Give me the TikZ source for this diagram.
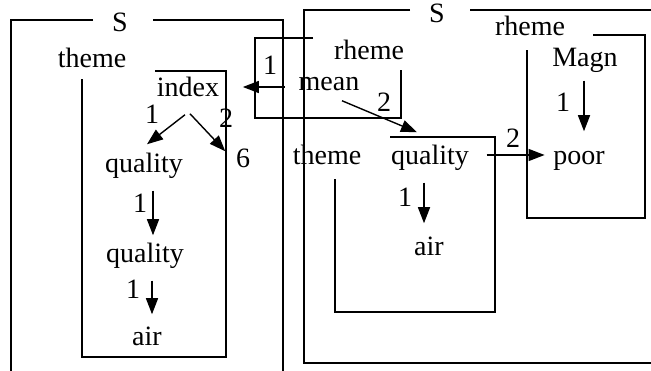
\documentclass[tikz,border=0pt]{standalone}
\usepackage{fontspec}
\setmainfont{Liberation Serif}
\usetikzlibrary{arrows.meta}
\begin{document}
\begin{tikzpicture}[x=1pt,y=-1pt,line width=1.5pt,>={Triangle[length=16pt,width=12pt]},
        word/.style={anchor=base, inner sep=0pt, text height=20pt, text depth=6pt, font=\fontsize{28}{30}\selectfont},
        arc/.style={->, line width=1.4pt}]
    \useasboundingbox (0,0) rectangle (651,371);

    % frames
    \draw (93,20) -- (11,20) -- (11,371);
    \draw (153,20) -- (283,20) -- (283,371);
    \draw (155,71) -- (226,71) -- (226,357) -- (82,357) -- (82,79);
    \draw (410,10) -- (304,10) -- (304,363) -- (651,363);
    \draw (470,10) -- (651,10);
    \draw (313,38) -- (255,38) -- (255,118) -- (401,118) -- (401,70);
    \draw (390,137) -- (495,137) -- (495,312) -- (335,312) -- (335,179);
    \draw (593,35) -- (645,35) -- (645,218) -- (527,218) -- (527,50);

    % left sentence
    \node (sleft) [word] at (120,32) {S};
    \node (themeleft) [word] at (92,68) {theme};
    \node (index) [word] at (188,97) {index};
    \node (qualityone) [word] at (144,173) {quality};
    \node (six) [word] at (243,168) {6};
    \node (qualitytwo) [word] at (145,263) {quality};
    \node (airleft) [word] at (147,346) {air};

    % right sentence
    \node (sright) [word] at (437,23) {S};
    \node (rhemesmall) [word] at (369,60) {rheme};
    \node (mean) [word] at (329,91) {mean};
    \node (themeright) [word] at (327,165) {theme};
    \node (qualityright) [word] at (430,165) {quality};
    \node (airright) [word] at (429,256) {air};
    \node (rhemeright) [word] at (530,36) {rheme};
    \node (magn) [word] at (585,67) {Magn};
    \node (poor) [word] at (579,165) {poor};

    % arc labels
    \node (lone) [word] at (152,124) {1};
    \node (ltwo) [word] at (226,128) {2};
    \node (lthree) [word] at (140,213) {1};
    \node (lfour) [word] at (133,299) {1};
    \node (lfive) [word] at (270,75) {1};
    \node (lsix) [word] at (384,112) {2};
    \node (lseven) [word] at (405,207) {1};
    \node (leight) [word] at (513,148) {2};
    \node (lnine) [word] at (563,112) {1};

    \draw[arc] ([xshift=-3pt,yshift=-11pt]index.south) -- ([xshift=3pt,yshift=8pt]qualityone.north);
    \draw[arc] ([xshift=2pt,yshift=-10pt]index.south) -- ([xshift=-10pt,yshift=-4pt]six.north west);
    \draw[arc] ([xshift=9pt,yshift=-11pt]qualityone.south) -- ([xshift=8pt,yshift=7pt]qualitytwo.north);
    \draw[arc] ([xshift=7pt,yshift=-11pt]qualitytwo.south) -- ([xshift=5pt,yshift=11pt]airleft.north);
    \draw[arc] ([xshift=-13pt,yshift=4pt]mean.base west) -- ([xshift=23pt,yshift=10pt]index.base east);
    \draw[arc] ([xshift=13pt,yshift=-3pt]mean.south) -- ([xshift=-13pt,yshift=12pt]qualityright.north);
    \draw[arc] ([xshift=-6pt,yshift=-11pt]qualityright.south) -- ([xshift=-5pt,yshift=12pt]airright.north);
    \draw[arc] ([xshift=17pt,yshift=3pt]qualityright.east) -- ([xshift=-8pt,yshift=3pt]poor.west);
    \draw[arc] ([xshift=-1pt,yshift=-7pt]magn.south) -- ([xshift=5pt,yshift=13pt]poor.north);
\end{tikzpicture}
\end{document}
